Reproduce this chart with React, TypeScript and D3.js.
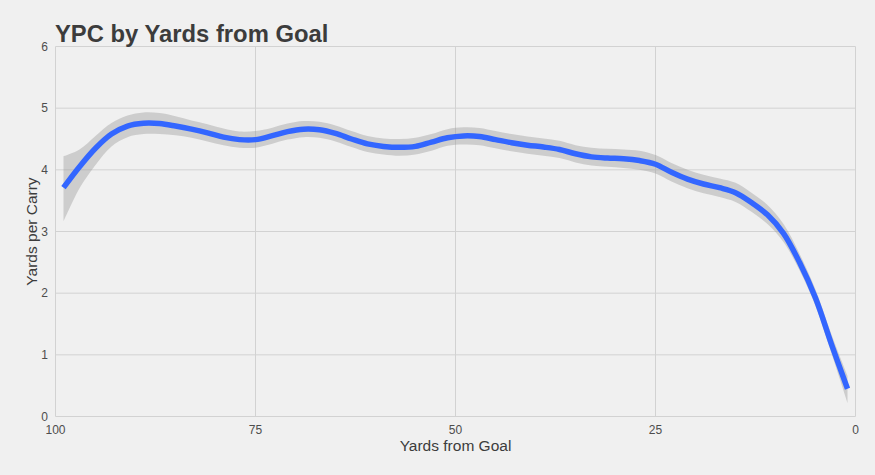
import React from "react";
import * as d3 from "d3";

const yards = [99, 97, 95, 93, 91, 89, 87, 85, 83, 81, 79, 77, 75, 73, 71, 69, 67, 65, 63, 61, 59, 57, 55, 53, 51, 49, 47, 45, 43, 41, 39, 37, 35, 33, 31, 29, 27, 25, 23, 21, 19, 17, 15, 13, 11, 9, 7, 5, 3, 1];
const ypc = [3.71, 4.05, 4.35, 4.58, 4.71, 4.755, 4.75, 4.71, 4.66, 4.6, 4.53, 4.49, 4.49, 4.55, 4.62, 4.66, 4.65, 4.59, 4.5, 4.42, 4.38, 4.365, 4.38, 4.45, 4.52, 4.55, 4.54, 4.49, 4.44, 4.4, 4.37, 4.33, 4.26, 4.21, 4.19, 4.18, 4.15, 4.09, 3.96, 3.85, 3.77, 3.71, 3.63, 3.47, 3.27, 2.97, 2.5, 1.92, 1.17, 0.45];
const lower = [3.16, 3.7, 4.08, 4.38, 4.53, 4.58, 4.58, 4.56, 4.52, 4.46, 4.4, 4.36, 4.36, 4.42, 4.49, 4.53, 4.52, 4.46, 4.37, 4.29, 4.25, 4.23, 4.25, 4.31, 4.39, 4.41, 4.4, 4.35, 4.3, 4.26, 4.23, 4.19, 4.12, 4.07, 4.05, 4.03, 4.0, 3.94, 3.81, 3.7, 3.62, 3.56, 3.48, 3.32, 3.12, 2.83, 2.37, 1.79, 1.02, 0.22];
const upper = [4.22, 4.33, 4.55, 4.76, 4.88, 4.93, 4.92, 4.87, 4.8, 4.74, 4.67, 4.62, 4.63, 4.68, 4.75, 4.79, 4.78, 4.72, 4.63, 4.55, 4.51, 4.5, 4.52, 4.58, 4.66, 4.69, 4.68, 4.63, 4.58, 4.54, 4.51, 4.47, 4.4, 4.36, 4.34, 4.33, 4.31, 4.24, 4.11, 4.0, 3.92, 3.86, 3.79, 3.63, 3.43, 3.12, 2.64, 2.06, 1.33, 0.66];

const xTicks = [100, 75, 50, 25, 0];
const yTicks = [0, 1, 2, 3, 4, 5, 6];

const W = 875;
const H = 475;

export default function App() {
  const x = d3.scaleLinear().domain([100, 0]).range([55.5, 855.5]);
  const y = d3.scaleLinear().domain([0, 6]).range([416.5, 46.5]);

  const pts = yards.map((yd, i) => ({ yd, v: ypc[i], lo: lower[i], hi: upper[i] }));

  const area = d3
    .area<any>()
    .x((d) => x(d.yd))
    .y0((d) => y(d.lo))
    .y1((d) => y(d.hi))
    .curve(d3.curveCatmullRom);
  const line = d3
    .line<any>()
    .x((d) => x(d.yd))
    .y((d) => y(d.v))
    .curve(d3.curveCatmullRom);

  const font = "'Liberation Sans', Arial, sans-serif";

  return (
    <div style={{ position: "fixed", left: 0, top: 0, width: W, height: H }}>
      <svg width={W} height={H} style={{ display: "block", fontFamily: font }}>
        <rect x={0} y={0} width={W} height={H} fill="#F0F0F0" />
        {yTicks.map((t) => (
          <line
            key={"gy" + t}
            x1={x(100)}
            x2={x(0)}
            y1={y(t)}
            y2={y(t)}
            stroke="#D2D2D2"
            strokeWidth={1}
          />
        ))}
        {xTicks.map((t) => (
          <line
            key={"gx" + t}
            x1={x(t)}
            x2={x(t)}
            y1={y(0)}
            y2={y(6)}
            stroke="#D2D2D2"
            strokeWidth={1}
          />
        ))}
        <path d={area(pts) || ""} fill="#999999" fillOpacity={0.4} />
        <path
          d={line(pts) || ""}
          fill="none"
          stroke="#3366FF"
          strokeWidth={5.5}
          strokeLinecap="butt"
          strokeLinejoin="round"
        />
        {yTicks.map((t) => (
          <text
            key={"ly" + t}
            x={48}
            y={y(t)}
            dy="0.36em"
            textAnchor="end"
            fontSize={12}
            fill="#4D4D4D"
          >
            {t}
          </text>
        ))}
        {xTicks.map((t) => (
          <text
            key={"lx" + t}
            x={x(t)}
            y={434}
            textAnchor="middle"
            fontSize={12}
            fill="#4D4D4D"
          >
            {t}
          </text>
        ))}
        <text
          x={(x(100) + x(0)) / 2}
          y={451}
          textAnchor="middle"
          fontSize={15.5}
          fill="#3C3C3C"
        >
          Yards from Goal
        </text>
        <text
          transform={`translate(37,${(y(0) + y(6)) / 2}) rotate(-90)`}
          textAnchor="middle"
          fontSize={15.5}
          fill="#3C3C3C"
        >
          Yards per Carry
        </text>
        <text
          x={55}
          y={41.7}
          fontSize={23.8}
          fontWeight="bold"
          fill="#3C3C3C"
        >
          YPC by Yards from Goal
        </text>
      </svg>
    </div>
  );
}
